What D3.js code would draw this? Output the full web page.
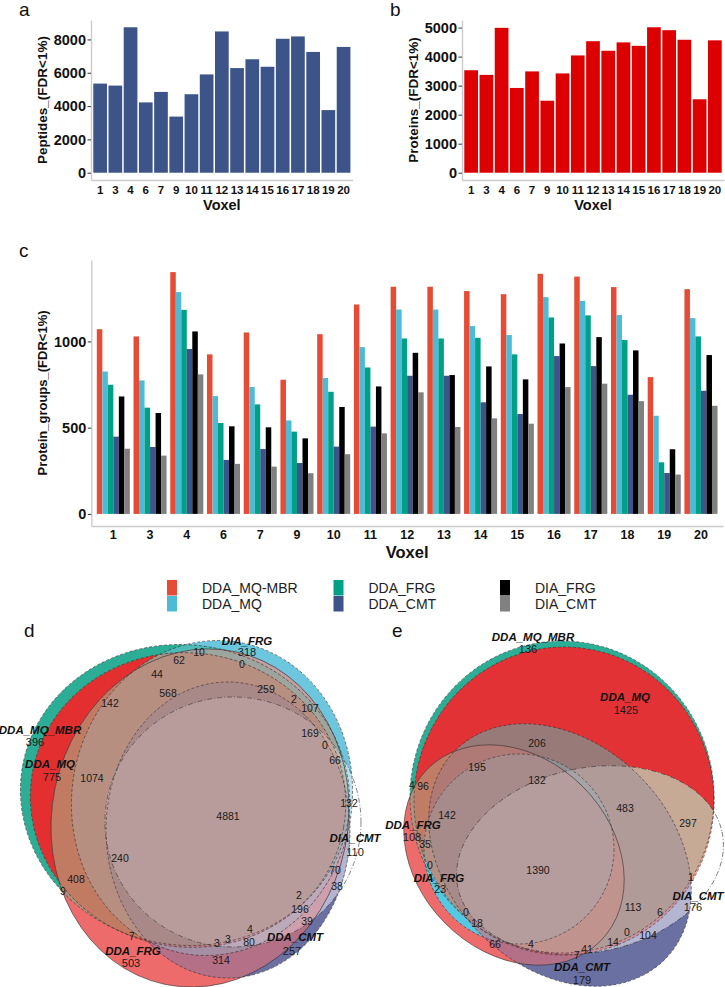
<!DOCTYPE html>
<html><head><meta charset="utf-8">
<script src="https://cdn.jsdelivr.net/npm/d3@7"></script>
<style>body{margin:0;background:#fff} svg{display:block}</style>
</head><body>
<svg id="chart" width="725" height="987"></svg>
<script>
// ---------------- DATA ----------------
const voxels = ["1","3","4","6","7","9","10","11","12","13","14","15","16","17","18","19","20"];
const peptides = [5350,5230,8730,4220,4850,3370,4710,5900,8480,6280,6810,6360,8040,8180,7250,3760,7550];
const proteins = [3530,3370,4990,2920,3490,2480,3420,4040,4530,4200,4490,4370,5010,4910,4580,2530,4560];
const peptideTicks = [0,2000,4000,6000,8000];
const proteinTicks = [0,1000,2000,3000,4000,5000];
const groupTicks = [0,500,1000];

const methods = ["DDA_MQ-MBR","DDA_MQ","DDA_FRG","DDA_CMT","DIA_FRG","DIA_CMT"];
const methodColors = ["#E64B35","#4DBBD5","#00A087","#3C5488","#000000","#808080"];
const pgMBR    = [1071,1029,1402,925,1052,778,1042,1214,1317,1317,1292,1274,1392,1376,1315,793,1303];
const pgMQ     = [826,774,1286,683,736,542,788,967,1185,1185,1089,1037,1257,1235,1153,569,1135];
const pgFRG    = [749,616,1183,527,635,477,708,849,1017,1017,1021,925,1139,1151,1008,299,1029];
const pgCMT    = [448,388,956,313,376,295,390,506,801,801,647,579,915,857,691,237,714];
const pgDiaFRG = [681,585,1058,508,502,438,620,739,934,805,855,780,988,1025,948,375,921];
const pgDiaCMT = [378,338,809,290,274,236,346,467,705,504,554,523,735,755,654,228,627];
const pgSeries = [pgMBR,pgMQ,pgFRG,pgCMT,pgDiaFRG,pgDiaCMT];

// Venn d (peptides) — sets, colours, region counts
const vennSetsD = ["DDA_MQ_MBR","DDA_MQ","DIA_FRG","DDA_FRG","DDA_CMT","DIA_CMT"];
const vennColorsD = ["#2BAE95","#E32F2F","#6CC6DD","#EE6B6B","#6B70A2","#FFFFFF"];
const vennSetCountsD = ["396","775","318","503","257","110"];
const vennRegionCountsD = ["10","62","0","44","568","259","142","2","107","169","0","66","1074","4881","132","240","408","9","70","38","2","196","39","4","80","3","3","7","314"];
// Venn e (proteins)
const vennSetsE = ["DDA_MQ_MBR","DDA_MQ","DIA_FRG","DDA_FRG","DDA_CMT","DIA_CMT"];
const vennColorsE = ["#2BAE95","#E23236","#55C8E2","#EE6B6B","#6B70A2","#FFFFFF"];
const vennSetCountsE = ["136","1425","23","108","179","176"];
const vennRegionCountsE = ["206","195","132","4","96","483","297","142","35","0","1390","1","113","6","0","18","0","104","14","66","4","41","7"];

// ---------------- LAYOUT (diagram geometry, panel-local units) ----------------
// ellipse: [cx, cy, rx, ry, rotationDeg]
const shapesD = [[185,165,165,150,10],[188,170,158,147,10],[212,168,140,158,10],[200,188,148,170,12],[228,200,122,148,0],[233,192,128,125,0]];
const dashD = ["3,2","3,2","3,2",null,"3,2","5,2,1,2"];
const setLabelPosD = [[40,100,35,112],[50,134,52,147],[247,11,247,22],[133,321,131,333],[295,307,292,321],[355,208,355,222]];
const regionPosD = [[199,22],[179,30],[242,34],[157,44],[168,63],[266,59],[110,73],[294,69],[310,78],[310,103],[325,115],[335,130],[92,148],[228,186],[349,173],[120,228],[76,249],[63,261],[335,240],[337,256],[299,265],[300,279],[307,291],[250,299],[249,312],[228,309],[217,313],[132,306],[221,330]];
const overridesD = [[[0,1],1]];

const shapesE = [[202,167,152,156,0],[204,171,150,154,0],[159,219,95,95,0],[154,225,122,97,45],[200,225,148,112,45],[230,230,135,92,-12]];
const dashE = ["3,2","3,2","3,2",null,"3,2","5,2,1,2"];
const setLabelPosE = [[173,7,168,19],[265,67,266,80],[79,248,80,259],[53,195,52,207],[222,337,222,350],[338,266,333,277]];
const regionPosE = [[177,113],[117,137],[177,150],[52,155],[63,156],[265,178],[328,193],[87,185],[65,214],[70,235],[178,240],[331,247],[273,277],[300,282],[106,282],[117,293],[267,302],[288,305],[253,312],[135,314],[171,314],[227,319],[217,325]];
const overridesE = [[[0,1],1],[[2,3],2],[[0,2,3],2]];

// ---------------- DRAWING ----------------
const FONT = '"Liberation Sans", Arial, Helvetica, sans-serif';
const svg = d3.select("#chart");
const defs = svg.append("defs");

function styleAxis(sel, fs){
  sel.attr("font-family", null);
  sel.select(".domain").attr("stroke","#cccccc").attr("stroke-width",1.4);
  sel.selectAll(".tick line").attr("stroke","#333").attr("stroke-width",1);
  sel.selectAll(".tick text").attr("font-family",FONT).attr("font-weight","bold")
     .attr("font-size",fs).attr("fill","#111");
}
function addText(txt, x, y, o={}){
  const t = svg.append("text").attr("x",x).attr("y",y).text(txt)
    .attr("font-family",FONT).attr("font-size",o.size||12).attr("fill",o.fill||"#111")
    .attr("text-anchor",o.anchor||"start");
  if(o.weight) t.attr("font-weight",o.weight);
  if(o.style) t.attr("font-style",o.style);
  if(o.rotate) t.attr("transform",`rotate(${o.rotate},${x},${y})`);
  if(o.dy) t.attr("dy",o.dy);
  return t;
}

function barPanel(o){
  const x = d3.scaleBand().domain(voxels).range([o.x0,o.x1]).paddingInner(0.1).paddingOuter(0.15);
  const vmax = d3.max(o.values);
  const y = d3.scaleLinear().domain([-0.05*vmax,1.05*vmax]).range([o.yBot,o.yTop]);
  svg.append("g").selectAll("rect").data(o.values).join("rect")
    .attr("x",(d,i)=>x(voxels[i])).attr("width",x.bandwidth())
    .attr("y",d=>y(d)).attr("height",d=>y(0)-y(d)).attr("fill",o.color);
  const ya = svg.append("g").attr("transform",`translate(${o.x0},0)`)
    .call(d3.axisLeft(y).tickValues(o.ticks).tickFormat(d3.format("d")).tickSize(3.5).tickSizeOuter(0).tickPadding(1.5));
  styleAxis(ya,14.5);
  const xa = svg.append("g").attr("transform",`translate(0,${o.yBot})`)
    .call(d3.axisBottom(x).tickSize(0).tickSizeOuter(0).tickPadding(6));
  styleAxis(xa,11.5);
  addText("Voxel",(o.x0+o.x1)/2,o.yBot+30,{size:14.5,weight:"bold",anchor:"middle"});
  addText(o.title,o.titleX,(o.yTop+o.yBot)/2,{size:13.5,weight:"bold",anchor:"middle",rotate:-90,dy:"0.35em"});
  addText(o.letter,o.letterX,16,{size:19});
}

barPanel({x0:91,x1:352.7,yTop:20,yBot:180,values:peptides,color:"#3C5488",ticks:peptideTicks,
  title:"Peptides_(FDR<1%)",titleX:42,letter:"a",letterX:19});
barPanel({x0:462,x1:724,yTop:20,yBot:180,values:proteins,color:"#DC0000",ticks:proteinTicks,
  title:"Proteins_(FDR<1%)",titleX:413,letter:"b",letterX:390});

// ---- panel c: grouped bars
(function(){
  const x0=91.3,x1=723,yTop=260,yBot=526;
  const x = d3.scaleBand().domain(voxels).range([x0,x1]).paddingInner(0.1).paddingOuter(0.15);
  const xi = d3.scaleBand().domain(methods).range([0,x.bandwidth()]);
  const vmax = d3.max(pgSeries.flat());
  const y = d3.scaleLinear().domain([-0.05*vmax,1.05*vmax]).range([yBot,yTop]);
  const g = svg.append("g");
  methods.forEach((m,k)=>{
    g.append("g").selectAll("rect").data(pgSeries[k]).join("rect")
      .attr("x",(d,i)=>x(voxels[i])+xi(m)).attr("width",xi.bandwidth())
      .attr("y",d=>y(d)).attr("height",d=>y(0)-y(d)).attr("fill",methodColors[k]);
  });
  const ya = svg.append("g").attr("transform",`translate(${x0},0)`)
    .call(d3.axisLeft(y).tickValues(groupTicks).tickFormat(d3.format("d")).tickSize(3.5).tickSizeOuter(0).tickPadding(1.5));
  styleAxis(ya,14.5);
  const xa = svg.append("g").attr("transform",`translate(0,${yBot})`)
    .call(d3.axisBottom(x).tickSize(0).tickSizeOuter(0).tickPadding(4.5));
  styleAxis(xa,12.5);
  addText("Voxel",(x0+x1)/2,557.5,{size:16.5,weight:"bold",anchor:"middle"});
  addText("Protein_groups_(FDR<1%)",42,(yTop+yBot)/2,{size:13,weight:"bold",anchor:"middle",rotate:-90,dy:"0.35em"});
  addText("c",19,257,{size:19});

  // legend (2 rows x 3 columns, column-major)
  const legX = d3.scalePoint().domain([0,1,2]).range([167,500]);
  const legY = d3.scalePoint().domain([0,1]).range([580,596]);
  methods.forEach((m,k)=>{
    const col=Math.floor(k/2), row=k%2;
    svg.append("rect").attr("x",legX(col)).attr("y",legY(row)).attr("width",10).attr("height",15.5)
      .attr("fill",methodColors[k]);
    addText(m,legX(col)+35,legY(row)+13,{size:14,fill:"#222"});
  });
})();

// ---- Venn diagrams
function popcount(m){let c=0;while(m){c+=m&1;m>>=1;}return c;}
function drawVenn(c){
  const geo = c.shapes.map(s=>({cx:c.xS(s[0]),cy:c.yS(s[1]),rx:c.xS(s[2])-c.xS(0),ry:c.yS(s[3])-c.yS(0),rot:s[4]}));
  geo.forEach((e,i)=>{
    defs.append("clipPath").attr("id",`${c.id}-c${i}`).append("ellipse")
      .attr("cx",e.cx).attr("cy",e.cy).attr("rx",e.rx).attr("ry",e.ry)
      .attr("transform",`rotate(${e.rot},${e.cx},${e.cy})`);
  });
  const inside=(e,px,py)=>{
    const t=e.rot*Math.PI/180, dx=px-e.cx, dy=py-e.cy;
    const u=dx*Math.cos(t)+dy*Math.sin(t), v=-dx*Math.sin(t)+dy*Math.cos(t);
    return (u*u)/(e.rx*e.rx)+(v*v)/(e.ry*e.ry)<=1;
  };
  const [bx0,by0,bx1,by1]=c.box;
  const found=new Set();
  for(let py=by0;py<=by1;py+=1) for(let px=bx0;px<=bx1;px+=1){
    let m=0; geo.forEach((e,i)=>{ if(inside(e,px,py)) m|=(1<<i); });
    if(m) found.add(m);
  }
  const labs=c.colors.map(col=>d3.lab(col));
  const ov=new Map(c.overrides.map(([ids,ci])=>[ids.reduce((a,i)=>a|(1<<i),0),ci]));
  function mix(m){
    if(ov.has(m)) return c.colors[ov.get(m)];
    let l=0,a=0,b=0,n=0;
    labs.forEach((L,i)=>{ if(m&(1<<i)){l+=L.l;a+=L.a;b+=L.b;n++;} });
    return d3.lab(l/n,a/n,b/n).formatHex();
  }
  const combos=Array.from(found).sort((a,b)=>popcount(a)-popcount(b));
  const g=svg.append("g");
  combos.forEach(m=>{
    let cur=g;
    for(let i=0;i<geo.length;i++) if(m&(1<<i)) cur=cur.append("g").attr("clip-path",`url(#${c.id}-c${i})`);
    cur.append("rect").attr("x",bx0-2).attr("y",by0-2).attr("width",bx1-bx0+4).attr("height",by1-by0+4)
      .attr("fill",mix(m));
  });
  // outlines
  g.selectAll("ellipse.outline").data(geo).join("ellipse").attr("class","outline")
    .attr("cx",e=>e.cx).attr("cy",e=>e.cy).attr("rx",e=>e.rx).attr("ry",e=>e.ry)
    .attr("transform",e=>`rotate(${e.rot},${e.cx},${e.cy})`)
    .attr("fill","none").attr("stroke","#333").attr("stroke-width",0.6)
    .attr("stroke-dasharray",(e,i)=>c.dash[i]);
  // region counts
  c.regionCounts.forEach((t,i)=>{
    addText(t,c.xS(c.regionPos[i][0]),c.yS(c.regionPos[i][1]),{size:10.5,fill:"#1a1a1a",anchor:"middle",dy:"0.35em"});
  });
  // set labels
  c.sets.forEach((s,i)=>{
    const p=c.setPos[i];
    addText(s,c.xS(p[0]),c.yS(p[1]),{size:11.5,weight:"bold",style:"italic",anchor:"middle",dy:"0.35em"});
    addText(c.setCounts[i],c.xS(p[2]),c.yS(p[3]),{size:11,fill:"#1a1a1a",anchor:"middle",dy:"0.35em"});
  });
}

drawVenn({id:"vd",sets:vennSetsD,colors:vennColorsD,setCounts:vennSetCountsD,regionCounts:vennRegionCountsD,
  shapes:shapesD,dash:dashD,setPos:setLabelPosD,regionPos:regionPosD,overrides:overridesD,
  xS:d3.scaleLinear().domain([0,365]).range([0,365]),yS:d3.scaleLinear().domain([0,357]).range([630,987]),
  box:[0,632,368,987]});
drawVenn({id:"ve",sets:vennSetsE,colors:vennColorsE,setCounts:vennSetCountsE,regionCounts:vennRegionCountsE,
  shapes:shapesE,dash:dashE,setPos:setLabelPosE,regionPos:regionPosE,overrides:overridesE,
  xS:d3.scaleLinear().domain([0,365]).range([360,725]),yS:d3.scaleLinear().domain([0,357]).range([630,987]),
  box:[368,632,725,987]});

addText("d",24,637,{size:19});
addText("e",392,637,{size:19});
</script>
</body></html>
